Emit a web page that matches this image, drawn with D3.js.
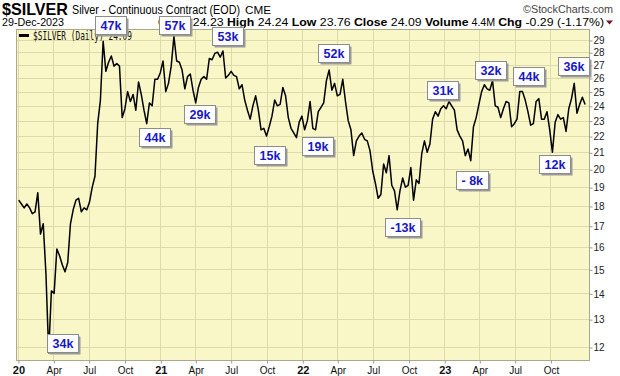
<!DOCTYPE html>
<html>
  <head>
    <title>$SILVER daily</title>
    <style>
      body,
      html {
        margin: 0;
        padding: 0;
        background: #fff;
      }
      svg {
        display: block;
      }
      text {
        white-space: pre;
      }
    </style>
  </head>
  <body>
    <svg id="svg" width="620" height="376"></svg>

    <script src="https://cdn.jsdelivr.net/npm/d3@7"></script>
    <script>
      // weekly (friday) closes
      const firstFriday = '2020-01-03';
      const lastFriday = '2023-12-29';

      const closes2020 = [
        18.3, 18.1, 17.9, 18.1, 17.9,
        17.6, 17.7, 18.7, 16.6,
        17.1, 14.8, 11.8, 14.1,
        14.0, 15.9, 15.6, 15.2,
        14.9, 15.3, 17.1, 17.8, 18.3,
        18.4, 17.7, 17.9, 17.8,
        18.2, 19.0, 19.6, 22.8, 24.4,
        28.9, 26.5, 27.2, 27.7,
        26.9, 27.1, 26.9, 23.2,
        23.8, 25.0, 24.3, 24.8, 23.7,
        25.7, 24.8, 23.7, 22.8,
        24.2, 24.0, 25.9, 25.9
      ];
      const closes2021 = [
        26.4, 27.3, 25.0, 25.6, 26.9,
        29.3, 27.3, 27.2, 26.6,
        25.2, 26.1, 26.3, 25.1,
        24.2, 25.3, 25.9, 26.1, 25.9,
        27.5, 27.4, 27.9, 28.0,
        27.6, 28.1, 26.0, 26.2,
        26.5, 26.2, 26.1, 25.2, 25.5,
        24.4, 23.7, 23.1, 24.0,
        24.7, 23.7, 22.4, 22.5,
        22.0, 22.6, 23.3, 24.4, 24.0,
        24.1, 25.3, 24.7, 23.2,
        22.5, 22.2, 21.9, 22.9, 23.3
      ];
      const closes2022 = [
        22.4, 23.0, 24.3, 22.5,
        22.4, 23.6, 23.9, 24.2,
        25.8, 26.6, 25.1, 25.6,
        24.7, 24.8, 25.9, 24.3, 23.0,
        22.4, 20.8, 21.7, 22.0,
        22.2, 21.8, 21.7, 21.1,
        19.9, 19.2, 18.4, 18.6, 20.3,
        19.8, 20.8, 19.1, 18.8,
        17.8, 18.8, 19.5, 19.0, 19.1,
        20.1, 18.3, 19.4, 19.2,
        20.9, 21.7, 21.0, 21.5,
        23.1, 23.6, 23.3, 23.8, 24.0
      ];
      const closes2023 = [
        23.8, 24.3, 24.0, 23.7,
        22.4, 22.0, 21.7, 20.8,
        21.2, 20.5, 22.6, 23.2, 24.1,
        25.0, 25.5, 25.2, 25.1,
        25.8, 24.0, 23.9, 23.2,
        23.8, 24.3, 24.2, 22.6, 22.8,
        23.1, 25.0, 25.0, 24.4,
        23.6, 22.7, 22.8, 24.3,
        24.5, 23.1, 23.1, 23.6, 22.4,
        21.0, 22.9, 23.4, 23.1,
        23.2, 22.3, 23.8, 24.5,
        25.6, 23.5, 24.1, 24.6, 24.09
      ];

      const priceTicks = [12, 13, 14, 15, 16, 17, 18, 19, 20, 21, 22, 23, 24, 25, 26, 27, 28, 29];
      const quarterDates = [
        '2020-01-01', '2020-04-01', '2020-07-01', '2020-10-01',
        '2021-01-01', '2021-04-01', '2021-07-01', '2021-10-01',
        '2022-01-01', '2022-04-01', '2022-07-01', '2022-10-01',
        '2023-01-01', '2023-04-01', '2023-07-01', '2023-10-01'
      ];
      const quarterLabels = [
        '20', 'Apr', 'Jul', 'Oct', '21', 'Apr', 'Jul', 'Oct',
        '22', 'Apr', 'Jul', 'Oct', '23', 'Apr', 'Jul', 'Oct'
      ];

      // volume call-outs, pinned at date / price of the box corner
      const noteTexts = ['47k', '57k', '53k', '29k', '44k', '34k', '15k', '19k',
        '52k', '-13k', '31k', '- 8k', '32k', '44k', '12k', '36k'];
      const noteDates = ['2020-07-17', '2020-12-29', '2021-05-14', '2021-03-03',
        '2020-11-07', '2020-03-15', '2021-08-30', '2021-12-31', '2022-02-10',
        '2022-08-02', '2022-11-18', '2023-01-31', '2023-03-21', '2023-06-27',
        '2023-09-02', '2023-10-21'];
      const notePrices = [31.07, 31.07, 30.1, 24.06, 22.52, 12.46, 21.39, 21.94,
        28.67, 17.4, 25.77, 19.92, 27.3, 26.83, 20.84, 27.62];

      const quoteFields = ['Open', 'High', 'Low', 'Close', 'Volume', 'Chg'];
      const quoteValues = ['24.23', '24.24', '23.76', '24.09', '4.4M', '-0.29 (-1.17%)'];

      const parseDate = d3.timeParse('%Y-%m-%d');
      const sans = '"Liberation Sans", Arial, sans-serif';

      const fridays = d3.timeFriday.range(
        parseDate(firstFriday),
        d3.timeDay.offset(parseDate(lastFriday), 1)
      );
      const closes = [...closes2020, ...closes2021, ...closes2022, ...closes2023];
      const data = fridays.map((d, i) => ({ date: d, close: closes[i] }));

      const plotLeft = 16;
      const plotRight = 589;
      const plotTop = 29;
      const plotBottom = 360;

      const xScale = d3
        .scaleTime()
        .domain([parseDate('2019-12-27'), parseDate('2024-01-08')])
        .range([plotLeft, plotRight]);
      const yScale = d3.scaleLog().domain([11.56, 29.93]).range([plotBottom, plotTop]);

      const svg = d3.select('#svg');

      // plot area + grid
      svg
        .append('rect')
        .attr('x', plotLeft)
        .attr('y', plotTop)
        .attr('width', plotRight - plotLeft)
        .attr('height', plotBottom - plotTop)
        .attr('fill', '#f9f7c8');

      const grid = svg.append('g').attr('stroke', '#dedbaa').attr('stroke-width', 1);
      grid
        .selectAll('line.h')
        .data(priceTicks)
        .join('line')
        .attr('class', 'h')
        .attr('x1', plotLeft)
        .attr('x2', plotRight)
        .attr('y1', (d) => Math.round(yScale(d)) + 0.5)
        .attr('y2', (d) => Math.round(yScale(d)) + 0.5);
      grid
        .selectAll('line.v')
        .data(quarterDates)
        .join('line')
        .attr('class', 'v')
        .attr('y1', plotTop)
        .attr('y2', plotBottom)
        .attr('x1', (d) => Math.round(xScale(parseDate(d))) + 0.5)
        .attr('x2', (d) => Math.round(xScale(parseDate(d))) + 0.5);

      svg
        .append('rect')
        .attr('x', plotLeft + 0.5)
        .attr('y', plotTop + 0.5)
        .attr('width', plotRight - plotLeft)
        .attr('height', plotBottom - plotTop)
        .attr('fill', 'none')
        .attr('stroke', '#aaa98f');

      // right price axis
      const rightAxis = d3
        .axisRight(yScale)
        .tickValues(priceTicks)
        .tickFormat(d3.format('d'))
        .tickSize(3)
        .tickPadding(1);
      const ya = svg
        .append('g')
        .attr('transform', `translate(${plotRight + 0.5}, 0.5)`)
        .call(rightAxis);
      ya.select('.domain').remove();
      ya.selectAll('line').attr('stroke', '#999');
      ya.selectAll('text')
        .attr('font-family', sans)
        .attr('font-size', 10)
        .attr('fill', '#222');

      // bottom time axis
      const bottomAxis = d3
        .axisBottom(xScale)
        .tickValues(quarterDates.map(parseDate))
        .tickFormat((d, i) => quarterLabels[i])
        .tickSize(3)
        .tickPadding(3);
      const xa = svg
        .append('g')
        .attr('transform', `translate(0.5, ${plotBottom + 0.5})`)
        .call(bottomAxis);
      xa.select('.domain').remove();
      xa.selectAll('line').attr('stroke', '#999');
      xa.selectAll('text')
        .attr('font-family', sans)
        .attr('font-size', (d, i) => (i % 4 === 0 ? 11 : 10))
        .attr('font-weight', (d, i) => (i % 4 === 0 ? 'bold' : 'normal'))
        .attr('fill', '#111');

      // price line
      const linegen = d3
        .line()
        .x((d) => xScale(d.date))
        .y((d) => yScale(d.close))
        .curve(d3.curveLinear);
      svg
        .append('path')
        .attr('d', linegen(data))
        .attr('fill', 'none')
        .attr('stroke', '#000')
        .attr('stroke-width', 1.5)
        .attr('stroke-linejoin', 'round');

      // legend
      svg
        .append('line')
        .attr('x1', 19)
        .attr('x2', 29)
        .attr('y1', 35.5)
        .attr('y2', 35.5)
        .attr('stroke', '#000')
        .attr('stroke-width', 3);
      svg
        .append('text')
        .attr('x', 33)
        .attr('y', 40)
        .attr('font-family', '"DejaVu Sans Mono", monospace')
        .attr('font-size', 12)
        .attr('textLength', 99)
        .attr('lengthAdjust', 'spacingAndGlyphs')
        .attr('fill', '#111')
        .text(`$SILVER (Daily) ${quoteValues[3]}`);

      // header
      const header = (x, y, size, weight, len, str, fill) =>
        svg
          .append('text')
          .attr('x', x)
          .attr('y', y)
          .attr('font-family', sans)
          .attr('font-size', size)
          .attr('font-weight', weight)
          .attr('textLength', len)
          .attr('lengthAdjust', 'spacingAndGlyphs')
          .attr('fill', fill || '#000')
          .text(str);

      header(2, 15, 16.5, 'bold', 66, '$SILVER');
      header(72, 14, 12, 'normal', 168, 'Silver - Continuous Contract (EOD)');
      header(245, 14, 10, 'normal', 26, 'CME');
      header(523, 12.5, 11, 'normal', 90, '\u00a9StockCharts.com', '#444');
      header(2, 25.5, 11, 'normal', 62, '29-Dec-2023');

      const quote = svg
        .append('text')
        .attr('x', 158)
        .attr('y', 25.5)
        .attr('font-family', sans)
        .attr('font-size', 11.5)
        .attr('textLength', 446)
        .attr('lengthAdjust', 'spacingAndGlyphs')
        .attr('fill', '#000');
      quoteFields.forEach((f, i) => {
        quote.append('tspan').attr('font-weight', 'bold').text(f);
        quote
          .append('tspan')
          .attr('font-size', f === 'Volume' ? 10 : 11.5)
          .text(` ${quoteValues[i]}${i < quoteFields.length - 1 ? ' ' : ''}`);
      });
      svg
        .append('path')
        .attr('d', 'M606,20.5 L613,20.5 L609.5,24.5 Z')
        .attr('fill', '#7a1020');

      // call-out boxes
      const notes = svg
        .append('g')
        .selectAll('g')
        .data(noteTexts.map((t, i) => ({ text: t, date: parseDate(noteDates[i]), price: notePrices[i] })))
        .join('g')
        .attr('transform', (d) => `translate(${Math.round(xScale(d.date)) + 0.5}, ${Math.round(yScale(d.price)) + 0.5})`);

      notes.each(function (d) {
        const g = d3.select(this);
        const shadow = g.append('rect').attr('x', 2).attr('y', 2).attr('height', 18).attr('fill', '#9a9a9a');
        const box = g
          .append('rect')
          .attr('height', 18)
          .attr('fill', '#fff')
          .attr('stroke', '#8c8c8c');
        const t = g
          .append('text')
          .attr('x', 5)
          .attr('y', 13.5)
          .attr('font-family', sans)
          .attr('font-size', 12.5)
          .attr('font-weight', 'bold')
          .attr('fill', '#1818c4')
          .text(d.text);
        const w = Math.round(t.node().getComputedTextLength()) + 10;
        shadow.attr('width', w);
        box.attr('width', w);
      });
    </script>
  </body>
</html>
